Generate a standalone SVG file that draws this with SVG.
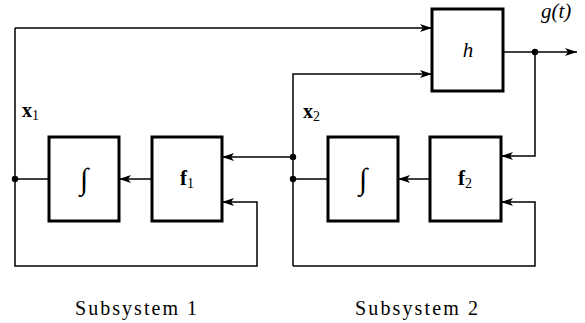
<svg xmlns="http://www.w3.org/2000/svg" width="585" height="323" viewBox="0 0 585 323">
<defs>
<marker id="ah" viewBox="0 0 12 8" refX="12" refY="4" markerWidth="12" markerHeight="8" markerUnits="userSpaceOnUse" orient="auto">
<path d="M0,0 L12,4 L0,8 L3,4 Z" fill="#000"/>
</marker>
</defs>
<style>
.box{fill:#fff;stroke:#000;stroke-width:3}
.ln{fill:none;stroke:#000;stroke-width:1.5}
.dot{fill:#000}
.t{font-family:"Liberation Serif","DejaVu Serif",serif;fill:#000}
.it{font-style:italic}
.b{font-weight:bold}
.sub{font-weight:normal;font-style:normal}
</style>
<rect width="585" height="323" fill="#fff"/>
<g id="connectors">
<path class="ln" d="M15,28 H432" marker-end="url(#ah)"/>
<path class="ln" d="M15,28 V266 H257 V202 H222" marker-end="url(#ah)"/>
<path class="ln" d="M49,179 H15"/>
<path class="ln" d="M152,179 H119" marker-end="url(#ah)"/>
<path class="ln" d="M293,157 H222" marker-end="url(#ah)"/>
<path class="ln" d="M293,266 V74 H432" marker-end="url(#ah)"/>
<path class="ln" d="M293,179 H328"/>
<path class="ln" d="M293,266 H535 V202 H501" marker-end="url(#ah)"/>
<path class="ln" d="M430,179 H398" marker-end="url(#ah)"/>
<path class="ln" d="M503,52 H577" marker-end="url(#ah)"/>
<path class="ln" d="M535,52 V156 H501" marker-end="url(#ah)"/>
<circle class="dot" cx="15" cy="179" r="3.2"/>
<circle class="dot" cx="293" cy="157" r="3.2"/>
<circle class="dot" cx="293" cy="179" r="3.2"/>
<circle class="dot" cx="535" cy="52" r="3.2"/>
</g>
<g id="int1">
<rect class="box" x="49" y="137" width="70" height="84"/>
<text class="t" x="84" y="189" font-size="30" text-anchor="middle">∫</text>
</g>
<g id="f1">
<rect class="box" x="152" y="137" width="70" height="84"/>
<text class="t b" x="180" y="185" font-size="21">f<tspan class="sub" font-size="14" dy="3">1</tspan></text>
</g>
<g id="int2">
<rect class="box" x="328" y="137" width="70" height="84"/>
<text class="t" x="363" y="189" font-size="30" text-anchor="middle">∫</text>
</g>
<g id="f2">
<rect class="box" x="430" y="137" width="71" height="84"/>
<text class="t b" x="458" y="185" font-size="21">f<tspan class="sub" font-size="14" dy="3">2</tspan></text>
</g>
<g id="h">
<rect class="box" x="432" y="9" width="71" height="82"/>
<text class="t it" x="468" y="57" font-size="21" text-anchor="middle">h</text>
</g>
<g id="labels">
<text class="t it" x="541" y="18" font-size="21">g(t)</text>
<text class="t b" x="22" y="117" font-size="20">x<tspan class="sub" font-size="14" dy="3">1</tspan></text>
<text class="t b" x="303" y="118" font-size="20">x<tspan class="sub" font-size="14" dy="3">2</tspan></text>
<text class="t" x="75" y="315" font-size="20" textLength="122" lengthAdjust="spacing">Subsystem 1</text>
<text class="t" x="355" y="315" font-size="20" textLength="123" lengthAdjust="spacing">Subsystem 2</text>
</g>
</svg>
